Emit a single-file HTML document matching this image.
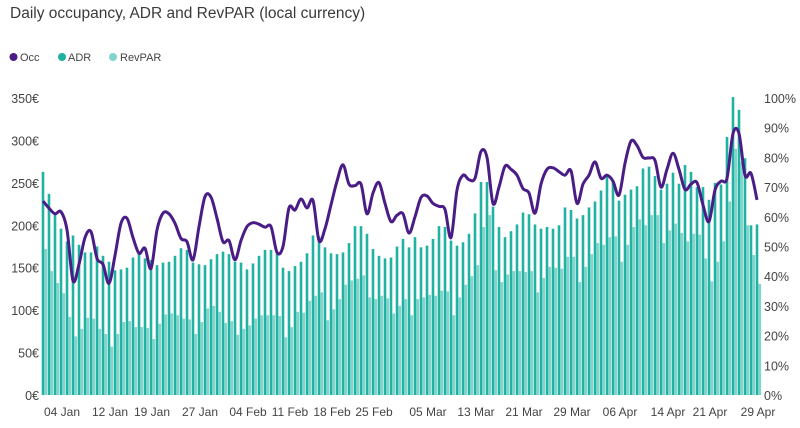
<!DOCTYPE html>
<html><head><meta charset="utf-8">
<style>
body{margin:0;background:#fff;width:800px;height:423px;overflow:hidden;font-family:"Liberation Sans",sans-serif}
</style></head><body>
<svg id="chart" width="800" height="423" xmlns="http://www.w3.org/2000/svg">
<text x="10" y="18" font-size="15.5" fill="#3a3a3a" font-family="Liberation Sans, sans-serif">Daily occupancy, ADR and RevPAR (local currency)</text>
<g font-size="11" fill="#444">
<g><circle cx="13.5" cy="57" r="4" fill="#4a1d86"/><text x="20" y="61">Occ</text></g>
<g><circle cx="62" cy="57" r="4" fill="#1fb0a0"/><text x="68" y="61">ADR</text></g>
<g><circle cx="113" cy="57" r="4" fill="#7fd5cd"/><text x="120" y="61">RevPAR</text></g>
</g>
<g id="bars"></g>
<g id="axes"></g>
<path id="occline" fill="none" stroke="#4a1d86" stroke-width="3" stroke-linejoin="round"/>
</svg>
<script>
const adr=[263,237,212,196,181,188,177,168,168,175,164,157,147,148,150,162,169,161,159,153,156,157,164,173,171,156,154,153,160,166,169,166,157,156,148,155,164,171,171,167,150,146,152,157,167,188,187,174,167,166,168,179,199,199,190,172,164,161,162,175,184,174,186,174,176,184,199,198,182,176,180,190,214,251,251,222,198,186,193,201,215,213,201,196,198,196,200,221,218,208,212,221,228,241,258,253,229,236,242,246,267,269,258,242,249,262,249,271,263,245,245,230,250,248,304,351,336,279,200,201];
const revpar=[172,146,132,120,92,69,78,91,90,78,72,57,72,86,87,80,80,79,66,84,95,96,94,90,89,72,86,102,105,98,85,87,71,78,82,90,94,94,94,93,68,80,98,97,111,117,121,88,101,113,130,135,137,141,115,113,117,114,96,105,113,94,113,115,118,117,123,122,94,115,130,140,153,198,212,147,133,142,146,146,145,146,121,138,151,150,149,163,163,133,151,166,179,177,186,187,157,177,198,207,200,212,212,179,194,202,191,181,190,189,161,134,157,181,228,290,275,200,165,131];
const occ=[65.3,62.9,61,61.7,55.6,38.5,44,53,55,46,44,37.6,47,57.8,59.5,53,47.7,49.4,42.6,55.6,61.2,61,57.8,52.7,51.6,45.5,56.7,66.8,66.6,59.5,51.6,52,45.5,52,56.7,58,57.5,56.5,56.7,48,50,63,62.3,66,63,65.5,52,56,64,72,77.5,71,70.5,71,61,68,71.5,64.5,58.4,60.5,61,54.5,60,66.5,67,64.5,63.5,62.5,53,69,74,72.5,73,82,80,64.5,70,77,76,74,69.5,68,61.2,71,76,76.5,75.2,74,75.5,64.5,71,74,78.5,73,74,72,67.3,78,85.5,84,80,79.8,79,70,76,81.4,76,69.2,71,71.5,64,58.4,69,72,73,88,88,74,74.6,65.7];
const xTicks=["04 Jan","12 Jan","19 Jan","27 Jan","04 Feb","11 Feb","18 Feb","25 Feb","05 Mar","13 Mar","21 Mar","29 Mar","06 Apr","14 Apr","21 Apr","29 Apr"];
const xTickDays=[4,12,19,27,35,42,49,56,65,73,81,89,97,105,112,120];
const leftTicks=[0,50,100,150,200,250,300,350];
const rightTicks=[0,10,20,30,40,50,60,70,80,90,100];

const NS="http://www.w3.org/2000/svg";
const y0=395,yTop=98;
const xDay=d=>43+6*(d-1);
const yEur=v=>y0-(y0-yTop)*v/350;
const yPct=v=>y0-(y0-yTop)*v/100;
function mk(tag,attrs,parent){const e=document.createElementNS(NS,tag);for(const k in attrs)e.setAttribute(k,attrs[k]);parent.appendChild(e);return e;}
const bars=document.getElementById('bars'),axes=document.getElementById('axes');
adr.forEach((v,i)=>{
  const r=mk('rect',{x:xDay(i+1)-1.3,y:yEur(v),width:2.6,height:y0-yEur(v),fill:'#22b2a2'},bars);
  
  
});
revpar.forEach((v,i)=>{
  const r=mk('rect',{x:xDay(i+1)+1.5,y:yEur(v),width:2.6,height:y0-yEur(v),fill:'#80d5cd'},bars);
  
  
});
leftTicks.forEach(v=>{
  const t=mk('text',{x:39,y:yEur(v)+5,'text-anchor':'end','font-size':12.5,fill:'#444'},axes);t.textContent=v+'€';
  
  
});
rightTicks.forEach(v=>{
  const t=mk('text',{x:764,y:yPct(v)+5,'font-size':12.5,fill:'#444'},axes);t.textContent=v+'%';
  
  
});
xTicks.forEach((s,i)=>{
  const t=mk('text',{x:xDay(xTickDays[i])+1,y:416,'text-anchor':'middle','font-size':12,fill:'#444'},axes);t.textContent=s;
  
  
});
// smooth occupancy line (Catmull-Rom)
const pts=occ.map((v,i)=>[xDay(i+1),yPct(v)]);
let d='M'+pts[0][0]+','+pts[0][1];
for(let i=0;i<pts.length-1;i++){
  const p0=pts[Math.max(0,i-1)],p1=pts[i],p2=pts[i+1],p3=pts[Math.min(pts.length-1,i+2)];
  const c1=[p1[0]+(p2[0]-p0[0])/6,p1[1]+(p2[1]-p0[1])/6];
  const c2=[p2[0]-(p3[0]-p1[0])/6,p2[1]-(p3[1]-p1[1])/6];
  d+=' C'+c1[0].toFixed(1)+','+c1[1].toFixed(1)+' '+c2[0].toFixed(1)+','+c2[1].toFixed(1)+' '+p2[0]+','+p2[1].toFixed(1);
}
document.getElementById('occline').setAttribute('d',d);
</script>
</body></html>
